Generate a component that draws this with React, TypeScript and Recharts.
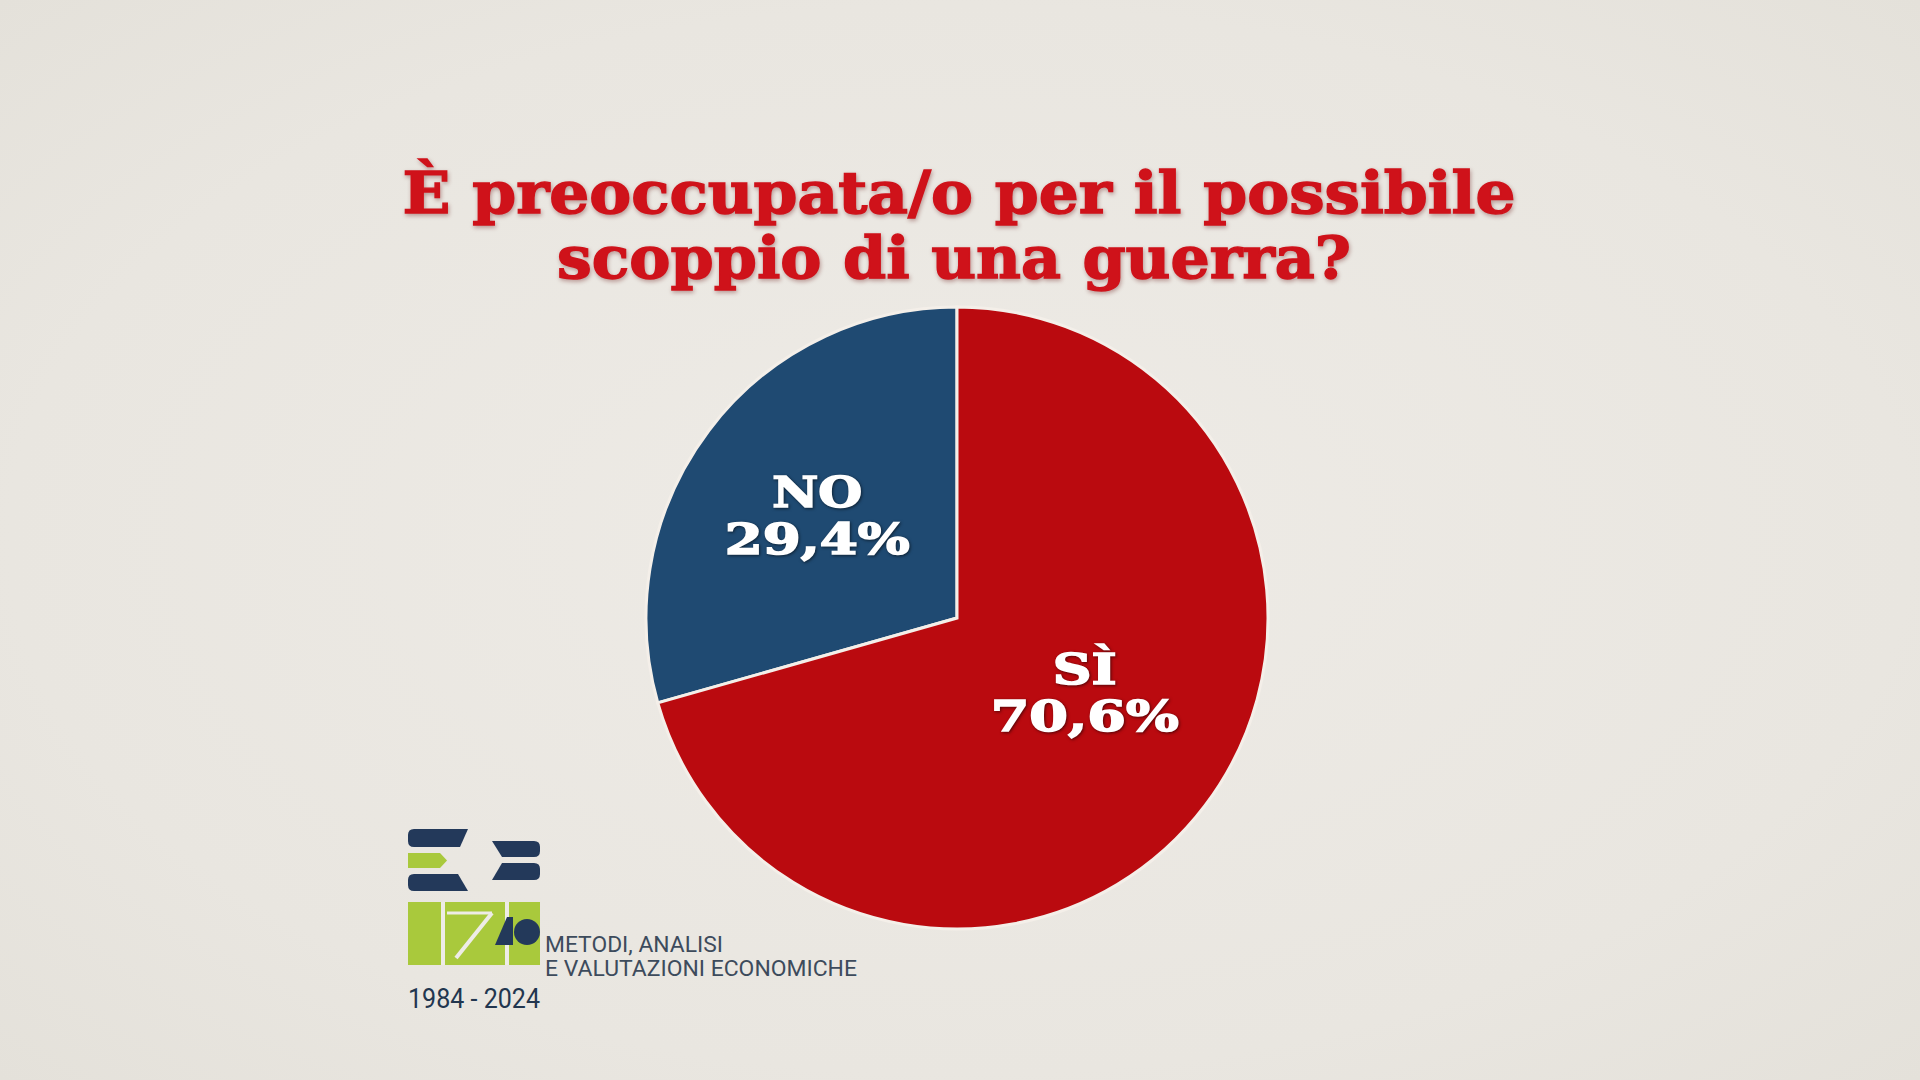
import { PieChart, Pie, Cell } from "recharts";

const TITLE_LINES = ["È preoccupata/o per il possibile", "scoppio di una guerra?"];
const ANSWERS = ["NO", "SÌ"];
const SHARES = [29.4, 70.6];
const SLICE_COLORS = ["#1f4a72", "#ba0a0f"];

// label placement: fraction of radius, angle nudge (deg), widths of the two lines
const LABEL_POS = [
  { r: 0.563, da: 0, w1: 90, w2: 185 },
  { r: 0.47, da: 8, w1: 64, w2: 188 },
];

const data = ANSWERS.map((name, i) => ({ name, value: SHARES[i] }));

const RADIAN = Math.PI / 180;
const fmt = (v: number) => v.toFixed(1).replace(".", ",") + "%";

const renderLabel = (props: any) => {
  const { cx, cy, midAngle, outerRadius, index } = props;
  const pos = LABEL_POS[index];
  const a = (midAngle + pos.da) * RADIAN;
  const r = outerRadius * pos.r;
  const x = cx + r * Math.cos(-a);
  const y = cy + r * Math.sin(-a);
  const common = {
    textAnchor: "middle" as const,
    fill: "#ffffff",
    stroke: "#ffffff",
    strokeWidth: 1.6,
    fontFamily: "'DejaVu Serif', serif",
    fontWeight: "bold",
    fontSize: 42,
    lengthAdjust: "spacingAndGlyphs",
    style: { filter: "drop-shadow(1px 1px 1.5px rgba(0,0,0,0.55))" },
  };
  return (
    <g>
      <text {...common} x={x} y={y - 5} textLength={pos.w1}>
        {data[index].name}
      </text>
      <text {...common} x={x} y={y + 42} textLength={pos.w2}>
        {fmt(data[index].value)}
      </text>
    </g>
  );
};

const Logo = () => (
  <g>
    {/* upper mark */}
    <path d="M414 829 H468 L460 847 H414 Q408 847 408 841 V835 Q408 829 414 829 Z" fill="#23395a" />
    <path d="M408 853 H440 L447 860.5 L440 868 H408 Z" fill="#a9c93c" />
    <path d="M414 874 H458 L468 891 H414 Q408 891 408 885 V880 Q408 874 414 874 Z" fill="#23395a" />
    <path d="M492 841 H534 Q540 841 540 847 V851 Q540 857 534 857 H502 Z" fill="#23395a" />
    <path d="M502 863 H534 Q540 863 540 869 V874 Q540 880 534 880 H492 Z" fill="#23395a" />
    {/* IZI block */}
    <rect x={408} y={902} width={132} height={63} fill="#a9c93c" />
    <line x1={443} y1={902} x2={443} y2={965} stroke="#eeece6" strokeWidth={4} />
    <line x1={507} y1={902} x2={507} y2={965} stroke="#eeece6" strokeWidth={4} />
    <line x1={447} y1={913} x2={492} y2={913} stroke="#eeece6" strokeWidth={3} />
    <line x1={492} y1={913} x2={456} y2={958} stroke="#eeece6" strokeWidth={4} />
    <path d="M507 917 L495 945 H513 V917 Z" fill="#23395a" />
    <circle cx={527} cy={932} r={13} fill="#23395a" />
    <g fontFamily="Roboto, sans-serif" fill="#3d4b5c" fontSize={22} lengthAdjust="spacingAndGlyphs">
      <text x={545} y={952} textLength={178} lengthAdjust="spacingAndGlyphs">
        METODI, ANALISI
      </text>
      <text x={545} y={976} textLength={312} lengthAdjust="spacingAndGlyphs">
        E VALUTAZIONI ECONOMICHE
      </text>
    </g>
    <text
      x={408}
      y={1008}
      fontFamily="Roboto, sans-serif"
      fontSize={27}
      fill="#22364f"
      textLength={132}
      lengthAdjust="spacingAndGlyphs"
    >
      1984 - 2024
    </text>
  </g>
);

export default function App() {
  return (
    <div
      style={{
        position: "absolute",
        left: 0,
        top: 0,
        width: 1920,
        height: 1080,
        background: "radial-gradient(ellipse at 50% 50%, #eeebe6 0%, #e9e6e0 70%, #e4e1da 100%)",
        overflow: "hidden",
      }}
    >
      <PieChart width={1920} height={1080} margin={{ top: 0, right: 0, bottom: 0, left: 0 }}>
        <Pie
          data={data}
          dataKey="value"
          nameKey="name"
          cx={957}
          cy={618}
          outerRadius={311}
          startAngle={90}
          endAngle={450}
          stroke="#f4efe9"
          strokeWidth={3}
          label={renderLabel}
          labelLine={false}
          isAnimationActive={false}
        >
          {data.map((d, i) => (
            <Cell key={d.name} fill={SLICE_COLORS[i]} />
          ))}
        </Pie>
      </PieChart>
      <svg
        width={1920}
        height={1080}
        style={{ position: "absolute", left: 0, top: 0, pointerEvents: "none" }}
      >
        <g
          fontFamily="'DejaVu Serif', serif"
          fontWeight="bold"
          fontSize={58}
          fill="#cf121a"
          stroke="#cf121a"
          strokeWidth={1.4}
          textAnchor="middle"
          style={{ filter: "drop-shadow(1px 2px 2px rgba(90,0,0,0.35))" }}
        >
          <text x={959} y={213} textLength={1113} lengthAdjust="spacingAndGlyphs">
            {TITLE_LINES[0]}
          </text>
          <text x={954} y={278} textLength={794} lengthAdjust="spacingAndGlyphs">
            {TITLE_LINES[1]}
          </text>
        </g>
        <Logo />
      </svg>
    </div>
  );
}
